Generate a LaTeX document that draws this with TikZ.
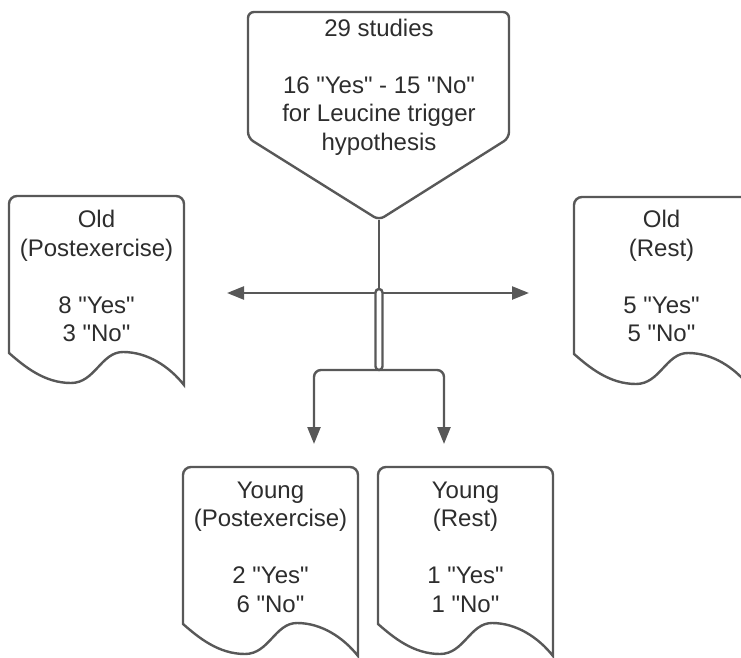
\documentclass[tikz,border=0pt]{standalone}
\usepackage{fontspec}
\setmainfont{Liberation Sans}[Ligatures=TeXOff]
\usetikzlibrary{arrows.meta}
\definecolor{linegray}{RGB}{88,88,88}
\definecolor{textgray}{RGB}{45,45,45}

\begin{document}
\begin{tikzpicture}[x=1pt, y=-1pt,
conn/.style={draw=linegray, line width=2.4pt},
flow/.style={conn, -{Triangle[length=17pt, width=13pt]}},
txt/.style={text=textgray, align=center, inner sep=0pt, font=\fontsize{24}{28.5}\selectfont},
docpic/.pic={
\draw[conn, fill=white] (0,157) [rounded corners=8] -- (0,0) -- (175,0) -- (175,60) [sharp corners] -- (175,189)
  .. controls (160,170) and (138,156) .. (114,156)
  .. controls (92,156) and (86,187) .. (62,187)
  .. controls (35,187) and (15,170) .. (0,157) -- cycle;
}]

\useasboundingbox (0,0) rectangle (741,658);

%%%%%% SHAPES %%%%%%%%%%

\draw[conn, rounded corners=6] (248,138) -- (248,12) -- (509,12) -- (509,138) -- (379,220) -- cycle;
\node[txt] (hyp) at (379,87) {29 studies\\[28.5pt]16 "Yes" - 15 "No"\\for Leucine trigger\\hypothesis};

\pic at (9,196) {docpic};
\pic at (574,197) {docpic};
\pic at (183,467) {docpic};
\pic at (378,467) {docpic};

\node[txt] (oldpost) at (96.5,276) {Old\\(Postexercise)\\[28.5pt]8 "Yes"\\3 "No"};
\node[txt] (oldrest) at (661.5,276) {Old\\(Rest)\\[28.5pt]5 "Yes"\\5 "No"};
\node[txt] (youngpost) at (270.5,547) {Young\\(Postexercise)\\[28.5pt]2 "Yes"\\6 "No"};
\node[txt] (youngrest) at (465.5,547) {Young\\(Rest)\\[28.5pt]1 "Yes"\\1 "No"};

%%%%%% CONNECTORS %%%%%%%%%%

\coordinate (hyptip) at (379,220);
\coordinate (junc) at (379,293);
\coordinate (hopend) at (379,370);
\coordinate (arrL) at (227,293);
\coordinate (arrR) at (529,293);
\coordinate (ypTip) at (314,444);
\coordinate (yrTip) at (444,444);

\draw[conn] (hyptip) -- (junc);
\draw[flow] (junc) -- (arrL);
\draw[flow] (junc) -- (arrR);
\draw[flow, rounded corners=7] (hopend) -| (ypTip);
\draw[flow, rounded corners=7] (hopend) -| (yrTip);
\draw[conn, fill=white, rounded corners=3.5] (375.5,289) rectangle (382.5,370);
\end{tikzpicture}
\end{document}
